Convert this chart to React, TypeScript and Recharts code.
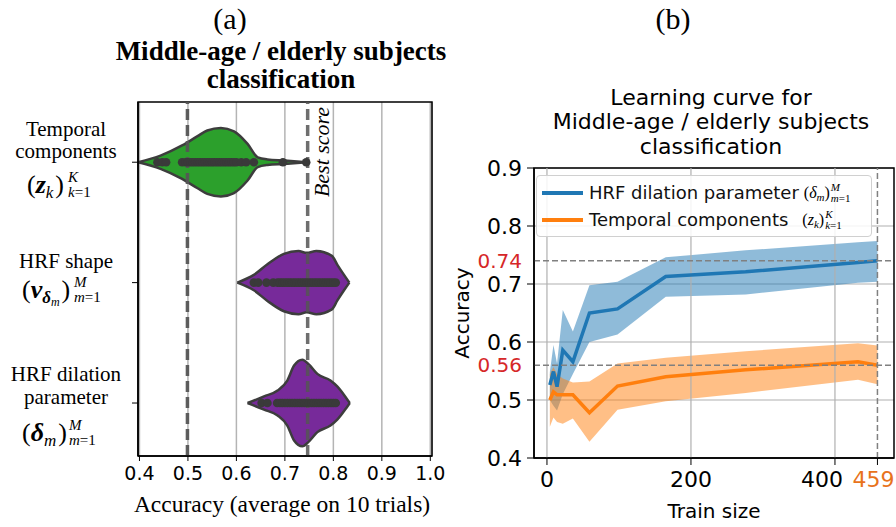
import React from "react";
import {
  ComposedChart,
  Area,
  Line,
  Scatter,
  XAxis,
  YAxis,
  CartesianGrid,
  ReferenceLine,
  ReferenceArea,
  Legend,
} from "recharts";

// ---------- panel (a): violins ----------
const categoryLines = [["Temporal", "components"], ["HRF shape"], ["HRF dilation", "parameter"]];
const accTicks = [0.4, 0.5, 0.6, 0.7, 0.8, 0.9, 1.0];
const chanceLevel = 0.499;
const bestScore = 0.747;

// violin outline: accuracy and half-width (in category units)
const temporalAcc = [0.397, 0.4435, 0.488, 0.519, 0.54, 0.568, 0.595, 0.623, 0.644, 0.664, 0.699, 0.744];
const temporalWidth = [0, 0.055, 0.139, 0.214, 0.263, 0.284, 0.256, 0.152, 0.041, 0.023, 0.014, 0];
const shapeAcc = [0.602, 0.636, 0.664, 0.698, 0.728, 0.745, 0.765, 0.797, 0.808, 0.822, 0.833];
const shapeWidth = [0, 0.064, 0.152, 0.238, 0.262, 0.247, 0.262, 0.222, 0.15, 0.064, 0];
const dilationAcc = [0.623, 0.657, 0.685, 0.705, 0.719, 0.736, 0.75, 0.767, 0.794, 0.808, 0.829, 0.834];
const dilationWidth = [0, 0.055, 0.104, 0.187, 0.311, 0.36, 0.318, 0.242, 0.187, 0.138, 0.028, 0];

// single trials drawn inside the violins
const temporalDots = [0.437, 0.447, 0.455, 0.488, 0.495, 0.5, 0.505, 0.51, 0.515, 0.52, 0.525, 0.53, 0.535, 0.54, 0.545, 0.55, 0.555, 0.56, 0.565, 0.57, 0.575, 0.58, 0.585, 0.59, 0.595, 0.6, 0.61, 0.62, 0.636, 0.696, 0.744];
const shapeDots = [0.636, 0.645, 0.662, 0.676, 0.685, 0.69, 0.695, 0.7, 0.705, 0.71, 0.715, 0.72, 0.725, 0.73, 0.735, 0.74, 0.745, 0.75, 0.755, 0.76, 0.765, 0.77, 0.775, 0.78, 0.785, 0.79, 0.795, 0.8, 0.805];
const dilationDots = [0.652, 0.664, 0.684, 0.69, 0.695, 0.7, 0.705, 0.71, 0.715, 0.72, 0.725, 0.73, 0.735, 0.74, 0.745, 0.75, 0.755, 0.76, 0.765, 0.77, 0.775, 0.78, 0.785, 0.79, 0.795, 0.8, 0.805];

// ---------- panel (b): learning curve ----------
const trainSizes = [4, 9, 14, 22, 36, 59, 98, 165, 276, 432, 459];
const dilationMean = [0.526, 0.549, 0.523, 0.586, 0.566, 0.65, 0.657, 0.713, 0.721, 0.737, 0.74];
const dilationLow = [0.5, 0.49, 0.482, 0.51, 0.545, 0.6, 0.613, 0.678, 0.682, 0.702, 0.704];
const dilationHigh = [0.548, 0.595, 0.563, 0.655, 0.618, 0.698, 0.704, 0.746, 0.758, 0.772, 0.774];
const temporalMean = [0.5, 0.514, 0.509, 0.509, 0.509, 0.478, 0.524, 0.54, 0.552, 0.566, 0.56];
const temporalLow = [0.454, 0.47, 0.462, 0.459, 0.468, 0.428, 0.483, 0.498, 0.512, 0.535, 0.527];
const temporalHigh = [0.545, 0.557, 0.545, 0.537, 0.53, 0.532, 0.563, 0.573, 0.584, 0.598, 0.594];
const lcYTicks = [0.4, 0.5, 0.6, 0.7, 0.8, 0.9];
const lcXTicks = [0, 200, 400, 459];
const lcGridX = [0, 200, 400];
const bestDilation = 0.74;
const bestTemporal = 0.56;
const fullTrainSize = 459;

const SERIF = '"Liberation Serif", "Times New Roman", serif';
const SANS = '"DejaVu Sans", sans-serif';
const BLUE = "#1f77b4";
const ORANGE = "#ff7f0e";
const GREEN = "#2ca02c";
const PURPLE = "#772a9a";

const toViolin = (acc: number[], width: number[], cat: number) =>
  acc.map((a, i) => ({ acc: a, band: [cat - width[i], cat + width[i]] }));
const toDots = (dots: number[], cat: number) => dots.map((a) => ({ acc: a, cat }));

const violins = [
  { data: toViolin(temporalAcc, temporalWidth, 0), color: GREEN, dots: toDots(temporalDots, 0) },
  { data: toViolin(shapeAcc, shapeWidth, 1), color: PURPLE, dots: toDots(shapeDots, 1) },
  { data: toViolin(dilationAcc, dilationWidth, 2), color: PURPLE, dots: toDots(dilationDots, 2) },
];

const lcData = trainSizes.map((n, i) => ({
  n,
  dil: dilationMean[i],
  dilBand: [dilationLow[i], dilationHigh[i]],
  tmp: temporalMean[i],
  tmpBand: [temporalLow[i], temporalHigh[i]],
}));

const lineOffsets = [[-26, -4], [-15], [-22, 1]];
const mathOffsets = [31, 15, 38];

// (X_sub)^sup_{low=1}, laid out by hand in svg text
function MathLabel({ index, y }: { index: number; y: number }) {
  const base = { fontFamily: SERIF, fill: "#000" };
  const parts = [
    { x: 27, sx: 68, sym: "z", sub: "k", subsub: "", sup: "K", low: "k" },
    { x: 22, sx: 74, sym: "v", sub: "δ", subsub: "m", sup: "M", low: "m" },
    { x: 22, sx: 69, sym: "δ", sub: "m", subsub: "", sup: "M", low: "m" },
  ][index];
  return (
    <g>
      <text x={parts.x} y={y} fontSize={26} {...base}>
        (<tspan fontWeight="bold" fontStyle="italic">{parts.sym}</tspan>
        <tspan fontSize={17} fontWeight={index === 1 ? "bold" : "normal"} fontStyle="italic" dy={5}>
          {parts.sub}
        </tspan>
        {parts.subsub && (
          <tspan fontSize={12} fontStyle="italic" dy={3}>
            {parts.subsub}
          </tspan>
        )}
        <tspan dy={parts.subsub ? -8 : -5} dx={2}>)</tspan>
      </text>
      <text x={parts.sx} y={y - 11} fontSize={15} fontStyle="italic" {...base}>
        {parts.sup}
      </text>
      <text x={parts.sx} y={y + 4} fontSize={15} {...base}>
        <tspan fontStyle="italic">{parts.low}</tspan>=1
      </text>
    </g>
  );
}

function CategoryTick(props: any) {
  const { y, payload } = props;
  const i = payload.value as number;
  return (
    <g>
      {categoryLines[i].map((t, k) => (
        <text key={k} x={66} y={y + lineOffsets[i][k]} textAnchor="middle" fontFamily={SERIF} fontSize={21} fill="#000">
          {t}
        </text>
      ))}
      <MathLabel index={i} y={y + mathOffsets[i]} />
    </g>
  );
}

function TrainTick(props: any) {
  const { x, y, payload } = props;
  const v = payload.value;
  const dx = v === 400 ? -13 : v === fullTrainSize ? -4 : 0;
  return (
    <text x={x + dx} y={y} dy="0.71em" textAnchor="middle" fontFamily={SANS} fontSize={22} fill={v === fullTrainSize ? "#e8731c" : "#000"}>
      {v}
    </text>
  );
}

const dotShape = (p: any) => <circle cx={p.cx} cy={p.cy} r={4.3} fill="#3a3a3a" />;

function SubSup({ base, sub, sup, low }: { base: string; sub: string; sup: string; low: string }) {
  return (
    <span style={{ fontFamily: SERIF, fontSize: 16, display: "inline-flex", alignItems: "center" }}>
      (<i>{base}</i>
      <i style={{ fontSize: 11, position: "relative", top: 4 }}>{sub}</i>)
      <span style={{ display: "inline-flex", flexDirection: "column", fontSize: 11, lineHeight: "11px", marginLeft: 1 }}>
        <i>{sup}</i>
        <span><i>{low}</i>=1</span>
      </span>
    </span>
  );
}

const legendItems = [
  { label: "HRF dilation parameter", color: BLUE, gap: 5, math: <SubSup base="δ" sub="m" sup="M" low="m" /> },
  { label: "Temporal components", color: ORANGE, gap: 14, math: <SubSup base="z" sub="k" sup="K" low="k" /> },
];

function LcLegend() {
  return (
    <div
      style={{
        width: 336,
        height: 62,
        boxSizing: "border-box",
        border: "1px solid #d0d0d0",
        borderRadius: 4,
        background: "rgba(255,255,255,0.85)",
        paddingTop: 3,
      }}
    >
      {legendItems.map((it) => (
        <div key={it.label} style={{ display: "flex", alignItems: "center", height: 27 }}>
          <div style={{ width: 41, height: 4, background: it.color, marginLeft: 5, marginRight: 6 }} />
          <span style={{ fontFamily: SANS, fontSize: 18, color: "#111", marginRight: it.gap }}>{it.label}</span>
          {it.math}
        </div>
      ))}
    </div>
  );
}

export default function App() {
  return (
    <div style={{ position: "absolute", left: 0, top: 0, width: 896, height: 527, background: "#fff" }}>
      <div style={{ position: "absolute", left: 0, top: 0 }}>
        <ComposedChart width={445} height={527} margin={{ top: 102, right: 13, bottom: 31, left: 1 }}>
          <CartesianGrid horizontal={false} stroke="#b4b4b4" strokeWidth={1.5} />
          <XAxis
            type="number"
            dataKey="acc"
            domain={[0.397, 1.0035]}
            ticks={accTicks}
            allowDataOverflow
            tickFormatter={(v: number) => v.toFixed(1)}
            tick={{ fill: "#000", fontSize: 19, fontFamily: SANS }}
            tickSize={5}
            tickMargin={6}
            height={40}
            axisLine={{ stroke: "#000", strokeWidth: 1.5 }}
            tickLine={{ stroke: "#000" }}
          />
          <YAxis
            type="number"
            dataKey="cat"
            domain={[-0.5, 2.44]}
            reversed
            allowDataOverflow
            ticks={[0, 1, 2]}
            tick={<CategoryTick />}
            width={137}
            tickSize={6}
            axisLine={{ stroke: "#000", strokeWidth: 1.5 }}
            tickLine={{ stroke: "#000" }}
          />
          {violins.map((v, i) => (
            <Area
              key={"v" + i}
              data={v.data}
              dataKey="band"
              type="monotone"
              fill={v.color}
              fillOpacity={1}
              stroke="#3d3d3d"
              strokeWidth={2.5}
              isAnimationActive={false}
            />
          ))}
          {violins.map((v, i) => (
            <Scatter key={"d" + i} data={v.dots} shape={dotShape} isAnimationActive={false} />
          ))}
          <ReferenceLine x={chanceLevel} stroke="#555" strokeOpacity={0.95} strokeWidth={3.5} strokeDasharray="11 5" />
          <ReferenceLine x={bestScore} stroke="#555" strokeOpacity={0.85} strokeWidth={3.5} strokeDasharray="11 5" />
          <ReferenceArea x1={0.397} x2={1.0035} y1={-0.5} y2={2.44} fill="none" stroke="#000" strokeWidth={1.5} ifOverflow="visible" />
        </ComposedChart>
      </div>

      <div style={{ position: "absolute", left: 440, top: 0 }}>
        <ComposedChart width={456} height={527} data={lcData} margin={{ top: 168, right: 2, bottom: 29, left: 34 }}>
          <CartesianGrid vertical={false} stroke="#b0b0b0" strokeWidth={1.2} />
          {lcGridX.map((x) => (
            <ReferenceLine key={x} x={x} stroke="#b0b0b0" strokeWidth={1.2} />
          ))}
          <XAxis
            type="number"
            dataKey="n"
            domain={[-18, 482]}
            ticks={lcXTicks}
            allowDataOverflow
            tick={<TrainTick />}
            tickSize={7}
            tickMargin={6}
            height={40}
            axisLine={{ stroke: "#000", strokeWidth: 1.5 }}
            tickLine={{ stroke: "#000" }}
          />
          <YAxis
            type="number"
            domain={[0.4, 0.9]}
            ticks={lcYTicks}
            allowDataOverflow
            tickFormatter={(v: number) => v.toFixed(1)}
            tick={{ fill: "#000", fontSize: 22, fontFamily: SANS }}
            width={60}
            tickSize={7}
            tickMargin={5}
            axisLine={{ stroke: "#000", strokeWidth: 1.5 }}
            tickLine={{ stroke: "#000" }}
          />
          <Area dataKey="dilBand" type="linear" fill={BLUE} fillOpacity={0.5} stroke="none" isAnimationActive={false} />
          <Area dataKey="tmpBand" type="linear" fill={ORANGE} fillOpacity={0.5} stroke="none" isAnimationActive={false} />
          <Line dataKey="dil" type="linear" stroke={BLUE} strokeWidth={3.5} dot={false} isAnimationActive={false} />
          <Line dataKey="tmp" type="linear" stroke={ORANGE} strokeWidth={3.5} dot={false} isAnimationActive={false} />
          <ReferenceLine
            y={bestDilation}
            stroke="#808080"
            strokeWidth={1.5}
            strokeDasharray="6 3"
            label={{ value: "0.74", position: "left", offset: 12, fill: "#d62728", fontSize: 20, fontFamily: SANS }}
          />
          <ReferenceLine
            y={bestTemporal}
            stroke="#808080"
            strokeWidth={1.5}
            strokeDasharray="6 3"
            label={{ value: "0.56", position: "left", offset: 12, fill: "#d62728", fontSize: 20, fontFamily: SANS }}
          />
          <ReferenceLine x={fullTrainSize} stroke="#808080" strokeWidth={1.5} strokeDasharray="6 3" />
          <ReferenceArea x1={-18} x2={482} y1={0.4} y2={0.9} fill="none" stroke="#000" strokeWidth={1.5} ifOverflow="visible" />
          <Legend
            content={<LcLegend />}
            layout="horizontal"
            verticalAlign="middle"
            wrapperStyle={{ left: 96, top: 175, width: 336, height: 62 }}
          />
        </ComposedChart>
      </div>

      <svg width={896} height={527} style={{ position: "absolute", left: 0, top: 0, pointerEvents: "none" }}>
        <text x={230} y={29} textAnchor="middle" fontFamily={SERIF} fontSize={30}>(a)</text>
        <text x={673} y={29} textAnchor="middle" fontFamily={SERIF} fontSize={30}>(b)</text>
        <text x={281} y={60} textAnchor="middle" fontFamily={SERIF} fontWeight="bold" fontSize={27}>
          Middle-age / elderly subjects
        </text>
        <text x={281} y={88} textAnchor="middle" fontFamily={SERIF} fontWeight="bold" fontSize={27}>
          classification
        </text>
        <text x={711} y={105} textAnchor="middle" fontFamily={SANS} fontSize={22}>Learning curve for</text>
        <text x={711} y={129} textAnchor="middle" fontFamily={SANS} fontSize={22}>Middle-age / elderly subjects</text>
        <text x={711} y={154} textAnchor="middle" fontFamily={SANS} fontSize={22}>classification</text>
        <text x={329} y={152} transform="rotate(-90 329 152)" textAnchor="middle" fontFamily={SERIF} fontStyle="italic" fontSize={22}>
          Best score
        </text>
        <text x={282} y={512} textAnchor="middle" fontFamily={SERIF} fontSize={23.5}>
          Accuracy (average on 10 trials)
        </text>
        <text x={469} y={313} transform="rotate(-90 469 313)" textAnchor="middle" fontFamily={SANS} fontSize={20}>
          Accuracy
        </text>
        <text x={714} y={518} textAnchor="middle" fontFamily={SANS} fontSize={20}>Train size</text>
      </svg>
    </div>
  );
}
